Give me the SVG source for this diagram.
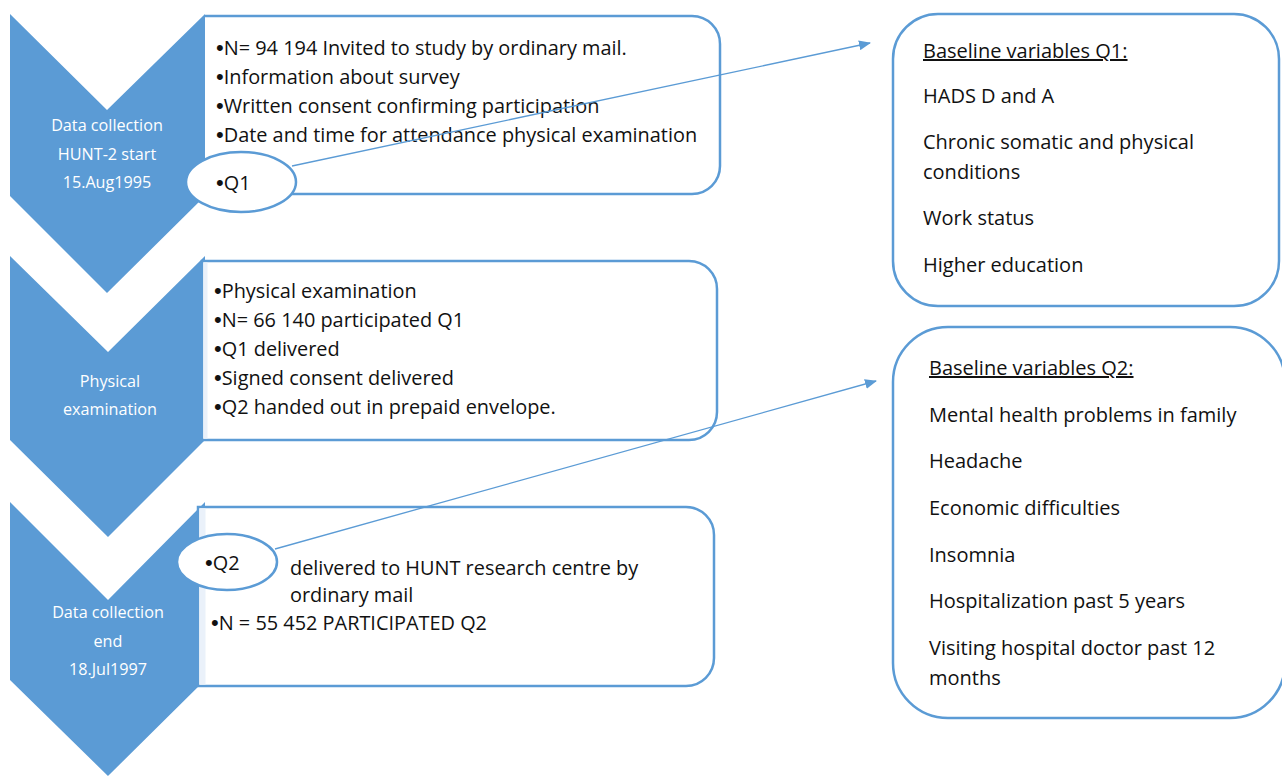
<svg xmlns="http://www.w3.org/2000/svg" width="1282" height="776" viewBox="0 0 1282 776">
  <style>
    .chev { fill: #5B9BD5; }
    .chev-text { font-family: "Open Sans", "Liberation Sans", sans-serif; font-size: 16.2px; fill: #FFFFFF; text-anchor: middle; }
    .box { fill: #FFFFFF; stroke: #5B9BD5; stroke-width: 2.5; }
    .strip { fill: #EAF1FA; }
    .oval { fill: #FFFFFF; stroke: #5B9BD5; stroke-width: 2.5; }
    .body { font-family: "Open Sans", "Liberation Sans", sans-serif; font-size: 19.9px; fill: #111111; }
    .side { font-family: "Open Sans", "Liberation Sans", sans-serif; font-size: 20px; fill: #111111; }
    .dot { font-family: "Liberation Sans", sans-serif; font-size: 22px; }
    .link { stroke: #5B9BD5; stroke-width: 1.3; fill: none; }
  </style>
  <defs>
    <marker id="arrow" viewBox="0 0 12 10" refX="11" refY="5" markerWidth="12" markerHeight="10" markerUnits="userSpaceOnUse" orient="auto">
      <path d="M0,0 L12,5 L0,10 Z" fill="#5B9BD5"/>
    </marker>
  </defs>

  <!-- Stage 1: data collection start -->
  <g id="stage-start">
    <path class="box" d="M205,16 H692 A28,28 0 0 1 720,44 V166 A28,28 0 0 1 692,194 H205"/>
    <polygon class="chev" points="10,14 107,110 205,14 205,196 107,293 10,196"/>
    <text class="chev-text" x="107" y="131">Data collection</text>
    <text class="chev-text" x="107" y="160">HUNT-2 start</text>
    <text class="chev-text" x="107" y="188">15.Aug1995</text>
    <text class="body" x="216" y="55"><tspan class="dot">•</tspan>N= 94 194 Invited to study by ordinary mail.</text>
    <text class="body" x="216" y="84"><tspan class="dot">•</tspan>Information about survey</text>
    <text class="body" x="216" y="113"><tspan class="dot">•</tspan>Written consent confirming participation</text>
    <text class="body" x="216" y="142"><tspan class="dot">•</tspan>Date and time for attendance physical examination</text>
  </g>

  <!-- Stage 2: physical examination -->
  <g id="stage-exam">
    <polygon class="chev" points="10,256 108,352 205,256 205,440 108,537 10,440"/>
    <path class="box" d="M202,261 H689 A28,28 0 0 1 717,289 V412 A28,28 0 0 1 689,440 H202 Z"/>
    <rect class="strip" x="203.5" y="262.5" width="4" height="176"/>
    <text class="chev-text" x="110" y="387">Physical</text>
    <text class="chev-text" x="110" y="415">examination</text>
    <text class="body" x="214" y="298"><tspan class="dot">•</tspan>Physical examination</text>
    <text class="body" x="214" y="327"><tspan class="dot">•</tspan>N= 66 140 participated Q1</text>
    <text class="body" x="214" y="356"><tspan class="dot">•</tspan>Q1 delivered</text>
    <text class="body" x="214" y="385"><tspan class="dot">•</tspan>Signed consent delivered</text>
    <text class="body" x="214" y="414"><tspan class="dot">•</tspan>Q2 handed out in prepaid envelope.</text>
  </g>

  <!-- Stage 3: data collection end -->
  <g id="stage-end">
    <polygon class="chev" points="10,502 108,600 205,502 205,680 108,776 10,680"/>
    <path class="box" d="M198,507 H686 A28,28 0 0 1 714,535 V658 A28,28 0 0 1 686,686 H198 Z"/>
    <rect class="strip" x="199.5" y="508.5" width="6" height="176"/>
    <text class="chev-text" x="108" y="618">Data collection</text>
    <text class="chev-text" x="108" y="647">end</text>
    <text class="chev-text" x="108" y="675">18.Jul1997</text>
    <text class="body" x="290" y="575">delivered to HUNT research centre by</text>
    <text class="body" x="290" y="602">ordinary mail</text>
    <text class="body" x="211" y="630"><tspan class="dot">•</tspan>N = 55 452 PARTICIPATED Q2</text>
  </g>

  <!-- Questionnaire markers -->
  <g id="q1">
    <ellipse class="oval" cx="241" cy="182" rx="55" ry="30"/>
    <text class="body" x="216" y="190"><tspan class="dot">•</tspan>Q1</text>
  </g>
  <g id="q2">
    <ellipse class="oval" cx="227" cy="562" rx="50" ry="28"/>
    <text class="body" x="205" y="570"><tspan class="dot">•</tspan>Q2</text>
  </g>

  <!-- Baseline variables from Q1 -->
  <g id="vars-q1">
    <rect class="box" x="893" y="14" width="386" height="292" rx="45" ry="45"/>
    <text class="side" x="923" y="58" text-decoration="underline">Baseline variables Q1:</text>
    <text class="side" x="923" y="103">HADS D and A</text>
    <text class="side" x="923" y="149">Chronic somatic and physical</text>
    <text class="side" x="923" y="179">conditions</text>
    <text class="side" x="923" y="225">Work status</text>
    <text class="side" x="923" y="272">Higher education</text>
  </g>

  <!-- Baseline variables from Q2 -->
  <g id="vars-q2">
    <rect class="box" x="893" y="327" width="392" height="391" rx="55" ry="55"/>
    <text class="side" x="929" y="375" text-decoration="underline">Baseline variables Q2:</text>
    <text class="side" x="929" y="422">Mental health problems in family</text>
    <text class="side" x="929" y="468">Headache</text>
    <text class="side" x="929" y="515">Economic difficulties</text>
    <text class="side" x="929" y="562">Insomnia</text>
    <text class="side" x="929" y="608">Hospitalization past 5 years</text>
    <text class="side" x="929" y="655">Visiting hospital doctor past 12</text>
    <text class="side" x="929" y="685">months</text>
  </g>

  <!-- Connectors -->
  <g id="connectors">
    <line class="link" x1="292" y1="166" x2="870" y2="43" marker-end="url(#arrow)"/>
    <line class="link" x1="275" y1="549" x2="876" y2="381" marker-end="url(#arrow)"/>
  </g>
</svg>
